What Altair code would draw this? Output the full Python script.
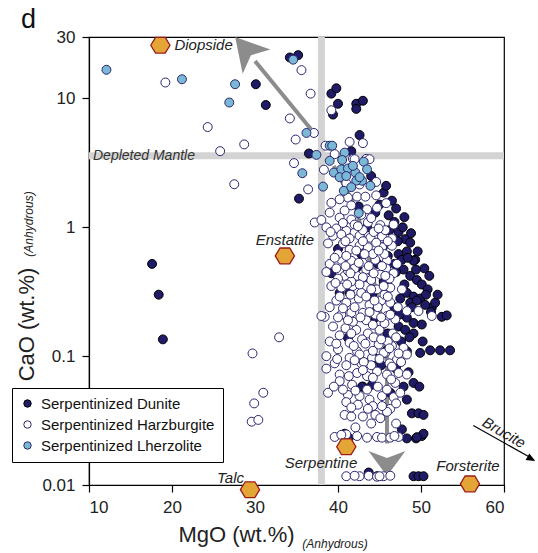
import altair as alt
import pandas as pd

FONT = "Liberation Sans"

# Serpentinized dunite (MgO, CaO in wt.%, anhydrous basis)
dunite_mgo = [17.6, 18.4, 18.9, 30.1, 31.3, 34.2, 35.2, 39.2, 39.8, 40.0, 39.4, 42.2, 43.0, 42.2, 42.6,
              36.5, 41.6, 35.3, 45.5, 46.5, 42.5, 44.5, 46.1, 47.3, 48.1, 48.7, 49.3, 40.0, 47.3, 48.3,
              47.7, 49.1, 39.2, 42.3, 47.9, 48.7, 49.5, 50.1, 40.2, 41.4, 44.1, 48.3, 49.1, 49.9, 48.3,
              49.1, 50.1, 52.5, 53.1, 51.3, 51.7, 48.7, 49.5, 50.5, 47.3, 48.1, 49.1, 41.2, 48.3, 49.9,
              51.1, 52.3, 53.5, 43.0, 44.1, 49.1, 48.3, 48.9, 49.7, 50.3, 40.8, 48.3, 50.1, 50.3, 43.7,
              44.7, 49.1, 49.7, 50.3, 45.0, 46.8, 47.8, 46.5, 48.8, 47.0, 46.0, 45.5, 50.8, 51.2, 46.8,
              47.5, 44.5, 46.0, 45.2, 47.0, 48.5, 49.8, 44.0, 43.5, 42.8, 44.8, 43.2, 45.8, 44.0, 48.0,
              47.0, 49.6, 50.4, 51.0, 52.0, 50.2, 47.6, 44.6, 46.3, 47.7, 49.4,
              46.2, 47.2, 48.4, 46.8, 48.0, 47.4, 48.9, 46.2, 44.9, 43.6, 45.4, 49.4, 50.6, 48.6,
              45.8, 44.0, 42.9, 47.9, 49.5, 41.3]
dunite_cao = [0.52, 0.30, 0.135, 12.9, 8.9, 20.8, 21.7, 10.9, 12.0, 9.1, 7.5, 9.1, 9.6, 8.3, 5.2,
              3.74, 3.9, 1.67, 1.86, 1.61, 1.45, 1.30, 1.24, 0.92, 0.81, 0.76, 0.56, 0.68, 0.62, 0.65,
              0.56, 0.55, 0.44, 0.49, 0.47, 0.42, 0.39, 0.36, 0.31, 0.31, 0.30, 0.31, 0.29, 0.28, 0.199,
              0.181, 0.176, 0.202, 0.207, 0.238, 0.26, 0.26, 0.27, 0.25, 0.17, 0.16, 0.15, 0.139, 0.109, 0.106,
              0.111, 0.111, 0.111, 0.058, 0.060, 0.062, 0.046, 0.036, 0.036, 0.035, 0.025, 0.023, 0.024, 0.025, 0.0125,
              0.0117, 0.0117, 0.0117, 0.0117, 1.5, 1.1, 1.0, 0.75, 0.9, 0.45, 0.60, 0.38, 0.33, 0.22, 0.24,
              0.28, 0.20, 0.15, 0.085, 0.08, 0.075, 0.058, 0.22, 1.0, 0.62, 0.52, 0.38, 2.1, 2.5, 1.2,
              1.4, 0.65, 0.48, 0.42, 0.30, 0.13, 0.13, 0.095, 0.052, 0.027, 0.023,
              0.95, 0.78, 0.58, 0.52, 0.36, 0.21, 0.24, 0.34, 0.26, 0.44, 0.70, 0.47, 0.30, 0.14,
              0.11, 0.42, 0.058, 0.058, 0.0235, 0.0232]

# Serpentinized harzburgite
harz_mgo = [19.2, 24.3, 28.7, 25.8, 27.5, 32.9, 29.7, 31.0, 29.9, 29.6, 30.4,
            35.6, 36.7, 39.2, 34.2, 34.9, 37.1, 34.7, 36.4,
            38.5, 41.4, 43.0, 39.6, 43.4, 44.6, 38.3, 41.8, 42.6, 41.0, 42.0, 43.8,
            42.3, 43.3, 44.6, 45.8, 41.2, 41.6, 40.2, 43.5, 44.7,
            40.2, 41.6, 43.6, 45.1, 46.7, 37.2, 38.0, 38.6, 39.8, 41.0, 42.0,
            39.4, 40.4, 41.4, 42.6, 43.9, 45.3, 46.5,
            41.4, 42.6, 43.6, 45.3, 46.5,
            39.0, 40.4, 41.6, 43.0, 44.5, 45.9, 47.1,
            40.8, 42.3, 43.6, 45.1, 46.7,
            39.2, 40.4, 41.8, 43.3, 44.7, 46.3, 47.7,
            38.4, 40.4, 41.6, 43.0, 44.5, 45.9, 46.9, 48.3, 49.7, 51.3,
            40.0, 41.4, 42.3, 43.5, 44.9, 45.7, 46.5, 47.9, 38.6, 38.6, 38.0, 38.8,
            40.2, 40.2, 41.2, 42.6, 43.8, 45.3, 46.7, 47.5,
            41.4, 42.6, 44.1, 45.5, 47.1, 48.3,
            42.3, 43.5, 44.7, 45.9, 47.3, 48.3,
            41.0, 42.4, 44.2, 46.3, 44.5, 40.8, 41.6, 43.0, 45.1, 45.9,
            39.6, 41.0, 42.3, 43.5, 44.7, 45.3, 46.3, 47.3,
            41.0, 42.6, 43.7, 44.7, 45.5, 46.3,
            39.0, 42.8, 44.0, 38.8, 40.0, 41.0, 44.2, 45.6, 38.6, 42.0, 44.0, 45.8,
            39.8, 41.0, 42.5, 43.8, 45.2, 46.3, 39.4, 40.9, 42.2, 43.6, 45.0, 46.6,
            39.0, 42.9, 44.3, 46.0, 39.6, 41.0, 42.8, 44.0, 46.2, 47.6,
            39.5, 41.7, 44.8, 46.9, 42.1, 44.0, 47.0,
            39.2, 40.8, 42.0, 43.0, 44.3, 45.7, 40.6, 43.0, 44.6, 39.8, 41.2, 43.4, 46.2,
            40.0, 41.6, 44.0, 42.8, 45.6, 39.0, 40.6, 42.0, 43.4, 44.8, 47.2, 41.8, 44.2,
            45.6, 40.2, 41.6, 45.2, 47.0,
            40.6, 42.4, 44.9, 39.1, 40.9, 42.2, 43.2, 44.9, 46.0, 39.6, 40.9, 42.5, 43.7, 45.3,
            41.5, 43.0, 44.3, 45.7, 39.7, 41.1, 42.6, 44.0, 45.5, 40.2, 41.5, 43.4, 44.4, 46.0,
            40.0, 41.2, 42.7, 43.8, 45.2, 46.3, 39.8, 41.9, 43.3, 44.2, 46.2, 47.3, 39.9, 42.0,
            43.1, 45.0, 46.5, 41.3, 43.0, 44.2, 46.4, 40.6, 42.1, 43.5, 45.9, 41.6, 43.6, 45.3,
            47.0, 40.4, 46.8, 42.0, 45.0]
harz_cao = [13.3, 6.0, 4.4, 3.9, 2.16, 0.14, 0.105, 0.052, 0.043, 0.031, 0.032,
            16.6, 10.9, 8.1, 7.0, 4.8, 5.4, 3.15, 1.97,
            4.3, 4.6, 4.5, 3.7, 3.4, 2.25, 2.8, 3.4, 2.15, 2.2, 3.38, 3.38,
            1.73, 1.73, 1.77, 1.54, 1.7, 1.48, 1.65, 1.38, 1.42,
            1.19, 1.15, 1.09, 1.04, 1.05, 1.09, 1.14, 1.0, 0.98, 0.94, 0.91,
            0.86, 0.88, 0.82, 0.86, 0.83, 0.85, 0.82,
            0.67, 0.72, 0.70, 0.70, 0.72,
            0.52, 0.56, 0.55, 0.53, 0.56, 0.55, 0.52,
            0.42, 0.42, 0.43, 0.43, 0.44,
            0.35, 0.34, 0.35, 0.35, 0.33, 0.34, 0.33,
            0.202, 0.21, 0.217, 0.217, 0.21, 0.205, 0.193, 0.224, 0.224, 0.205,
            0.113, 0.127, 0.109, 0.103, 0.123, 0.106, 0.12, 0.116, 0.10, 0.08, 0.205, 0.052,
            0.072, 0.064, 0.050, 0.049, 0.046, 0.049, 0.048, 0.052,
            0.097, 0.103, 0.097, 0.106, 0.094, 0.103,
            0.074, 0.070, 0.076, 0.072, 0.074, 0.072,
            0.044, 0.042, 0.041, 0.039, 0.035, 0.035, 0.034, 0.034, 0.033, 0.037,
            0.0236, 0.0247, 0.024, 0.0233, 0.0236, 0.0233, 0.0233, 0.0236,
            0.0117, 0.0117, 0.0118, 0.0116, 0.0117, 0.0118,
            1.3, 1.25, 1.18, 0.75, 0.62, 0.60, 0.62, 0.62, 0.45, 0.48, 0.46, 0.48,
            0.27, 0.26, 0.28, 0.25, 0.27, 0.26, 0.17, 0.165, 0.16, 0.15, 0.16, 0.15,
            0.13, 0.135, 0.14, 0.13, 0.088, 0.085, 0.088, 0.085, 0.088, 0.09,
            0.058, 0.06, 0.058, 0.062, 0.028, 0.030, 0.030,
            1.55, 1.35, 1.05, 0.95, 0.92, 0.95, 0.75, 0.78, 0.76, 0.48, 0.46, 0.47, 0.40,
            0.40, 0.38, 0.39, 0.31, 0.30, 0.24, 0.235, 0.24, 0.19, 0.24, 0.24, 0.185, 0.175,
            0.18, 0.145, 0.15, 0.135, 0.14,
            1.08, 1.02, 0.98, 0.92, 0.78, 0.66, 0.62, 0.66, 0.78, 0.58, 0.50, 0.53, 0.50, 0.50,
            0.44, 0.41, 0.44, 0.42, 0.37, 0.36, 0.36, 0.33, 0.35, 0.29, 0.30, 0.29, 0.27, 0.29,
            0.20, 0.19, 0.20, 0.22, 0.20, 0.21, 0.125, 0.12, 0.125, 0.11, 0.115, 0.105, 0.095, 0.093,
            0.09, 0.095, 0.083, 0.07, 0.078, 0.068, 0.066, 0.055, 0.054, 0.055, 0.055, 0.040, 0.039, 0.041,
            0.043, 0.0245, 0.024, 0.0118, 0.0117]

# Serpentinized lherzolite
lherz_mgo = [12.1, 21.2, 27.6, 26.9, 34.6, 36.2, 37.4, 35.7, 39.0, 40.8, 39.0, 40.5, 43.1, 39.5, 40.4,
             41.2, 42.1, 43.5, 40.2, 42.9, 43.9, 38.2, 40.7, 42.2, 42.5, 41.0, 41.8, 42.6, 41.6, 39.3]
lherz_cao = [16.7, 14.1, 12.9, 9.3, 20.0, 5.4, 3.65, 2.63, 4.3, 3.8, 3.28, 3.33, 3.23, 2.66, 2.82,
             2.86, 2.66, 2.82, 2.45, 2.3, 2.1, 2.07, 1.92, 2.3, 1.29, 2.5, 3.0, 2.45, 2.05, 4.3]

lithologies = ["Serpentinized Dunite", "Serpentinized Harzburgite", "Serpentinized Lherzolite"]

# Reference mineral compositions
mineral_names = ["Diopside", "Enstatite", "Talc", "Serpentine", "Forsterite"]
mineral_mgo = [18.6, 33.6, 29.4, 41.0, 55.9]
mineral_cao = [25.9, 0.60, 0.0092, 0.0198, 0.0102]

# Depleted mantle reference values
dm_mgo = 38.0
dm_cao = 3.6

# Alteration trends
cpx_trend_mgo = [36.75, 30.0]
cpx_trend_cao = [5.77, 19.5]
cpx_head_mgo, cpx_head_cao = 28.9, 24.05
serp_trend_mgo = [39.5, 41.4, 42.2, 43.6, 44.8, 45.5, 45.9, 45.9]
serp_trend_cao = [3.0, 1.74, 1.38, 0.62, 0.276, 0.16, 0.094, 0.021]
serp_head_mgo, serp_head_cao = 45.9, 0.01466
brucite_mgo = [56.3, 62.9]
brucite_cao = [0.029, 0.0167]
brucite_head_mgo, brucite_head_cao = 63.25, 0.0160
brucite_label_mgo, brucite_label_cao = 60.0, 0.0255

# ---- shared scales and axes ----
xscale = alt.Scale(domain=[10, 60], nice=False, zero=False)
yscale = alt.Scale(type="log", domain=[0.01, 30], nice=False)
xaxis = alt.Axis(values=[10, 20, 30, 40, 50, 60], title="MgO (wt.%)", grid=False,
                 titleX=147, titleY=56, titleAlign="center", titleBaseline="alphabetic",
                 titleFontSize=22, labelPadding=7, tickSize=7)
yaxis = alt.Axis(values=[0.01, 0.1, 1, 10, 30], format="~g", title="CaO (wt.%)", grid=False,
                 titleX=-56, titleY=287, titleAngle=270, titleAlign="center",
                 titleBaseline="alphabetic", titleFontSize=22, labelPadding=7, tickSize=7)


def X(field):
    return alt.X(field, type="quantitative", scale=xscale, axis=xaxis)


def Y(field):
    return alt.Y(field, type="quantitative", scale=yscale, axis=yaxis)


GRAY_BAND = "#d3d3d3"
ARROW = "#8c8c8c"

# Depleted mantle guide bands
vband = alt.Chart(pd.DataFrame({"mgo": [dm_mgo]})).mark_rule(
    color=GRAY_BAND, strokeWidth=7).encode(x=X("mgo"))
hband = alt.Chart(pd.DataFrame({"cao": [dm_cao]})).mark_rule(
    color=GRAY_BAND, strokeWidth=7).encode(y=Y("cao"))
dm_label = alt.Chart(pd.DataFrame({"mgo": [10.0], "cao": [dm_cao]})).mark_text(
    text="Depleted Mantle", align="left", baseline="middle", dx=4, dy=0,
    font=FONT, fontSize=14, fontStyle="italic", color="#333").encode(x=X("mgo"), y=Y("cao"))

# Trend arrows
cpx_line = alt.Chart(pd.DataFrame({"mgo": cpx_trend_mgo, "cao": cpx_trend_cao,
                                   "o": list(range(len(cpx_trend_mgo)))})).mark_line(
    color=ARROW, strokeWidth=4).encode(x=X("mgo"), y=Y("cao"), order="o:Q")
cpx_head = alt.Chart(pd.DataFrame({"mgo": [cpx_head_mgo], "cao": [cpx_head_cao]})).mark_point(
    shape="M0,-0.886 L1,0.886 L0,0.42 L-1,0.886 Z", size=1354, filled=True, fill=ARROW,
    opacity=1, angle=319).encode(x=X("mgo"), y=Y("cao"))
serp_line = alt.Chart(pd.DataFrame({"mgo": serp_trend_mgo, "cao": serp_trend_cao,
                                    "o": list(range(len(serp_trend_mgo)))})).mark_line(
    color=ARROW, strokeWidth=4).encode(x=X("mgo"), y=Y("cao"), order="o:Q")
serp_head = alt.Chart(pd.DataFrame({"mgo": [serp_head_mgo], "cao": [serp_head_cao]})).mark_point(
    shape="M0,0.675 L-1,-0.675 L0,-0.3 L1,-0.675 Z", size=1369, filled=True, fill=ARROW,
    opacity=1).encode(x=X("mgo"), y=Y("cao"))

# Sample points
pts = pd.DataFrame({
    "mgo": dunite_mgo + harz_mgo + lherz_mgo,
    "cao": dunite_cao + harz_cao + lherz_cao,
    "rock": [lithologies[0]] * len(dunite_mgo) + [lithologies[1]] * len(harz_mgo)
            + [lithologies[2]] * len(lherz_mgo),
    "z": [0] * len(dunite_mgo) + [1] * len(harz_mgo) + [2] * len(lherz_mgo),
})
legend = alt.Legend(title=None, orient="none", legendX=-77, legendY=351, direction="vertical",
                    symbolType="circle", symbolSize=55, symbolStrokeWidth=1,
                    labelFont=FONT, labelFontSize=15, labelColor="#111", labelOffset=6,
                    labelLimit=0, strokeColor="black", fillColor="white", padding=8,
                    rowPadding=5)
points = alt.Chart(pts).mark_point(filled=True, size=80, strokeWidth=1, opacity=1).encode(
    x=X("mgo"), y=Y("cao"),
    fill=alt.Fill("rock:N", scale=alt.Scale(domain=lithologies,
                                            range=["#1f1b66", "#ffffff", "#7ab8d6"]), legend=legend),
    stroke=alt.Stroke("rock:N", scale=alt.Scale(domain=lithologies,
                                                range=["#000000", "#2a2670", "#2a2670"]), legend=legend),
    order="z:Q",
)

# Mineral end-members
minerals = pd.DataFrame({"name": mineral_names, "mgo": mineral_mgo, "cao": mineral_cao})
hexes = alt.Chart(minerals).mark_point(
    shape="M-1,0 L-0.5,-0.82 L0.5,-0.82 L1,0 L0.5,0.82 L-0.5,0.82 Z", size=370,
    filled=True, fill="#e3a535", stroke="#9b1b1b", strokeWidth=1.3, opacity=1).encode(
    x=X("mgo"), y=Y("cao"))

label_style = {
    "Diopside": dict(align="left", dx=14, dy=0),
    "Enstatite": dict(align="center", dx=0, dy=-16),
    "Talc": dict(align="right", dx=-6, dy=-12),
    "Serpentine": dict(align="right", dx=11, dy=16),
    "Forsterite": dict(align="center", dx=-2, dy=-18),
}
mineral_labels = []
for name in mineral_names:
    st = label_style[name]
    mineral_labels.append(
        alt.Chart(minerals[minerals["name"] == name]).mark_text(
            baseline="middle", font=FONT, fontSize=15, fontStyle="italic", color="#222", **st
        ).encode(x=X("mgo"), y=Y("cao"), text="name:N")
    )

# Brucite direction (off the MgO scale)
bru_line = alt.Chart(pd.DataFrame({"mgo": brucite_mgo, "cao": brucite_cao, "o": [0, 1]})).mark_line(
    color="black", strokeWidth=1.2).encode(x=X("mgo"), y=Y("cao"), order="o:Q")
bru_head = alt.Chart(pd.DataFrame({"mgo": [brucite_head_mgo], "cao": [brucite_head_cao]})).mark_point(
    shape="M0,-1 L0.75,0.8 L-0.75,0.8 Z", size=100, filled=True, fill="black", opacity=1,
    angle=119).encode(x=X("mgo"), y=Y("cao"))
bru_label = alt.Chart(pd.DataFrame({"mgo": [brucite_label_mgo], "cao": [brucite_label_cao]})).mark_text(
    text="Brucite", angle=30, align="center", baseline="middle", font=FONT, fontSize=15,
    fontStyle="italic", color="#222").encode(x=X("mgo"), y=Y("cao"))

# Small annotations: panel letter and anhydrous-basis notes
panel = alt.Chart(pd.DataFrame({"t": ["d"]})).mark_text(
    align="left", baseline="alphabetic", font=FONT, fontSize=27, color="#111").encode(
    x=alt.value(-68), y=alt.value(-9), text="t:N")
x_note = alt.Chart(pd.DataFrame({"t": ["(Anhydrous)"]})).mark_text(
    align="center", baseline="alphabetic", font=FONT, fontSize=12, fontStyle="italic",
    color="#222").encode(x=alt.value(246), y=alt.value(511), text="t:N")
y_note = alt.Chart(pd.DataFrame({"t": ["(Anhydrous)"]})).mark_text(
    align="center", baseline="alphabetic", font=FONT, fontSize=12, fontStyle="italic",
    color="#222", angle=270).encode(x=alt.value(-56), y=alt.value(187), text="t:N")

chart = alt.layer(
    vband, hband, cpx_line, cpx_head, serp_line, serp_head, points, dm_label,
    hexes, *mineral_labels, bru_line, bru_head, bru_label, panel, x_note, y_note,
).properties(
    width=415, height=448,
    background="white",
    autosize=alt.AutoSizeParams(type="none"),
    padding={"left": 89, "top": 37, "right": 34, "bottom": 68},
).configure_view(
    stroke="black", strokeWidth=1.2
).configure_axis(
    domainColor="black", tickColor="black", labelColor="#222", titleColor="#222",
    labelFont=FONT, titleFont=FONT, labelFontSize=17, titleFontWeight="normal",
    domainWidth=1.2, tickWidth=1.2,
)

chart.save("out.html", embed_options={"renderer": "svg", "actions": False})
